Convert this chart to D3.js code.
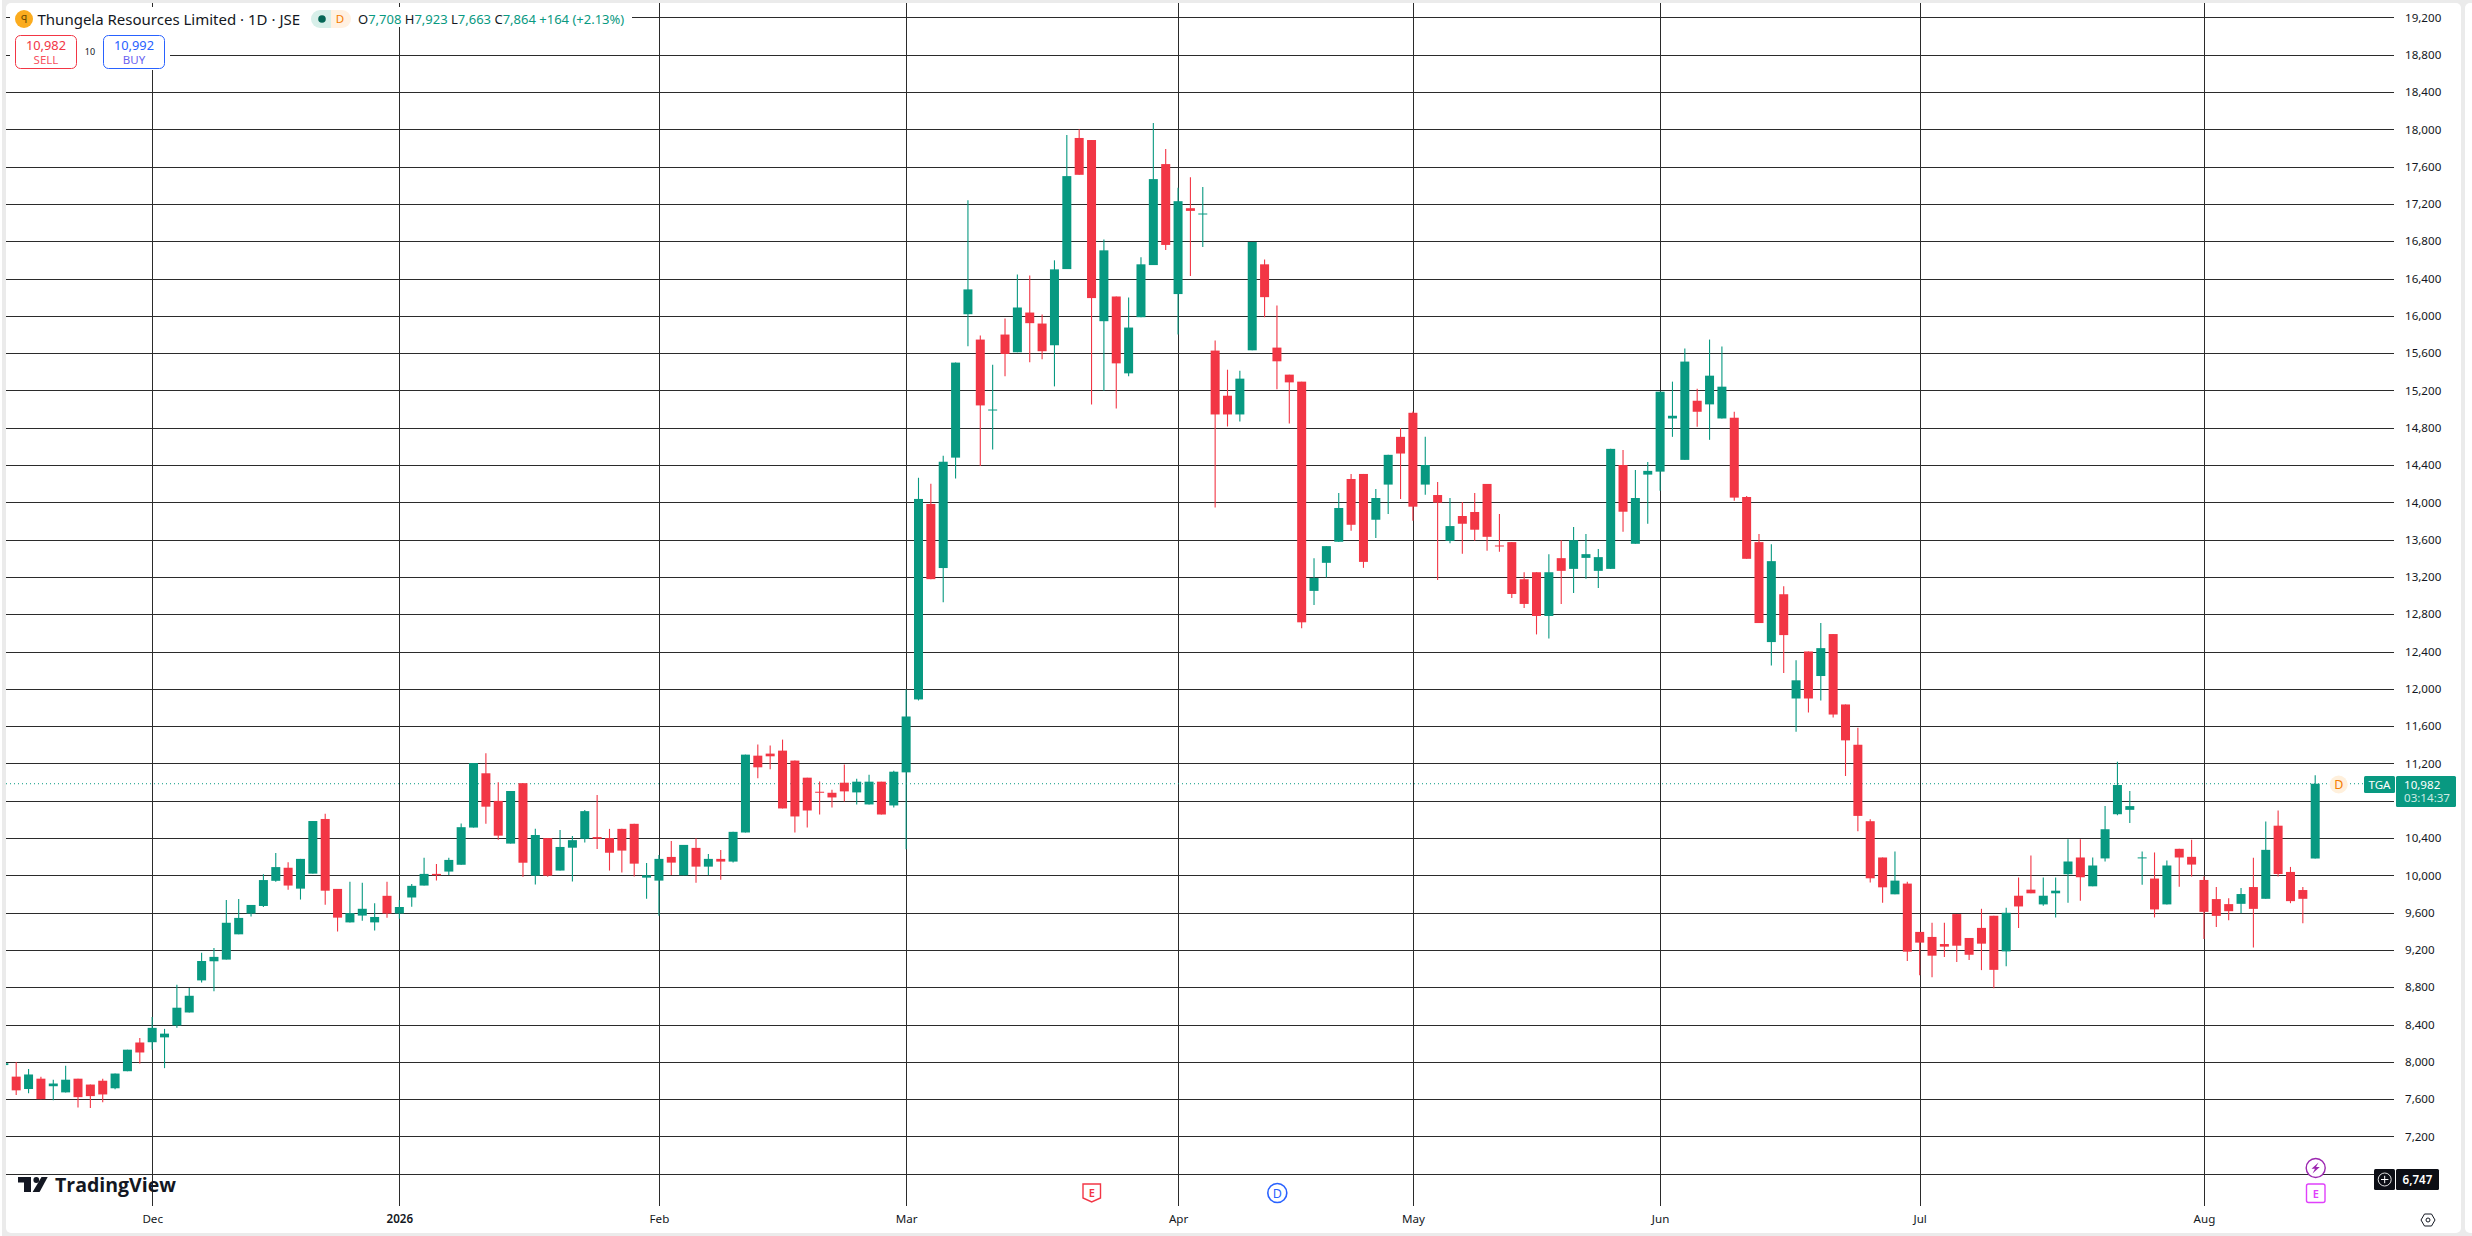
<!DOCTYPE html>
<html>
<head>
<meta charset="utf-8">
<title>Thungela Resources Limited</title>
<script src="https://cdn.jsdelivr.net/npm/d3@7"></script>
<style>
  html, body { margin: 0; padding: 0; background: #fff; overflow: hidden; }
  svg { display: block; }
  text { font-family: "Noto Sans", sans-serif; }
</style>
</head>
<body>
<script>
// one entry per daily bar, the first one is cut off by the left edge of the pane
const opens = [7965,
  7841,7708,7819,7738,7672,7819,7756,7797,7716,7899,
  8207,8210,8262,8390,8529,8873,9078,9096,9367,9590,
  9671,9941,10081,9857,10018,10604,9854,9495,9568,9495,
  9780,9590,9762,9890,10015,10040,10113,10512,11094,10798,
  10340,10988,9996,10399,10051,10296,10392,10410,10399,10498,
  10552,9975,9943,10197,10000,10294,10093,10176,10147,10459,
  11283,11305,11337,11230,11047,10896,10885,10993,10889,10760,
  11004,10749,11104,11886,13982,13295,14479,16017,15745,14989,
  15799,15609,16035,15917,15684,16501,17907,17885,15942,16207,
  15383,15985,16544,17627,16233,17154,17090,15627,15143,14942,
  15630,16552,15659,15369,15294,13050,13351,13577,14250,14304,
  13813,14190,14702,14960,14190,14078,13587,13853,13896,14197,
  13537,13573,13175,13250,12781,13401,13286,13404,13265,13286,
  14400,13555,14297,14329,14899,14455,15089,15050,14899,14907,
  14057,13573,12501,13014,11896,12400,12137,12587,11832,11400,
  10580,10191,9796,9911,9393,9339,9263,9584,9328,9436,
  9566,9184,9781,9846,9688,9807,10012,10191,9882,10181,
  10655,10702,10185,9965,9688,10284,10198,9950,9745,9691,
  9694,9874,9748,10532,10036,9842,10180];
const highs = [7985,
  7998,7923,7841,7808,7958,7819,7756,7819,7874,8130,
  8254,8481,8353,8825,8792,9169,9220,9736,9747,9682,
  10011,10238,10139,10176,10582,10659,9854,9930,9919,9700,
  9930,9736,9908,10187,10121,10187,10556,11204,11310,10999,
  10904,10988,10498,10399,10487,10421,10699,10860,10498,10498,
  10552,10133,10219,10369,10326,10398,10229,10272,10466,11294,
  11402,11391,11455,11230,11047,11007,10918,11187,11036,11079,
  11004,11122,11993,14263,14198,14500,15498,17240,15788,15476,
  15971,16444,16433,16014,16595,17939,18000,17885,16817,16207,
  16197,16627,18068,17788,17373,17487,17380,15734,15422,15412,
  16792,16605,16111,15369,15294,13401,13530,14100,14304,14304,
  14143,14509,14795,14975,14702,14218,14046,14003,14100,14197,
  13874,13573,13250,13250,13444,13594,13734,13659,13498,14573,
  14562,14347,14433,15186,15294,15649,15218,15745,15670,14971,
  14068,13659,13551,13100,12306,12400,12706,12587,11832,11583,
  10601,10191,10256,9932,9393,9490,9490,9584,9328,9641,
  9566,9652,9976,10213,9976,9976,10386,10386,10191,10742,
  11217,10904,10256,10245,10159,10284,10381,9986,9874,9755,
  9863,10187,10576,10694,10090,9874,11072];
const lows = [7965,
  7643,7663,7599,7588,7672,7511,7504,7566,7705,7899,
  7983,8133,7932,8364,8529,8851,8756,9096,9367,9557,
  9660,9930,9846,9740,10018,9685,9396,9495,9513,9407,
  9546,9535,9663,9890,9945,10004,10113,10512,10553,10381,
  10340,9985,9901,9985,10051,9934,10351,10282,10051,10029,
  9986,9749,9566,10004,10000,9921,10000,9953,10136,10459,
  11040,11136,10717,10459,10513,10652,10728,10792,10760,10760,
  10652,10728,10280,11875,13176,12928,14254,15673,14390,14566,
  15351,15609,15501,15534,15243,16501,17512,15050,15197,15007,
  15351,15985,16544,16706,15799,16426,16738,13943,14813,14867,
  15630,15985,15211,14845,12648,12899,13193,13577,13695,13297,
  13616,13874,14035,13802,14082,13168,13562,13447,13587,13480,
  13469,12974,12867,12583,12540,12910,13028,13179,13082,13286,
  13684,13555,13770,14125,14702,14455,14810,14670,14899,14017,
  13394,12705,12250,12170,11540,11745,11875,11691,11065,10472,
  9922,9706,9796,9080,8929,8907,9123,9069,9091,8983,
  8789,9026,9436,9807,9673,9548,9706,9727,9882,10148,
  10644,10562,9900,9548,9688,9878,9986,9317,9446,9518,
  9594,9227,9748,9986,9701,9486,10180];
const closes = [7985,
  7694,7864,7599,7767,7808,7621,7632,7650,7874,8130,
  8100,8364,8302,8580,8708,9081,9125,9491,9543,9682,
  9949,10088,9890,10176,10582,9835,9546,9594,9641,9553,
  9590,9660,9887,10015,10000,10165,10516,11204,10736,10425,
  10904,10135,10432,9996,10304,10377,10688,10392,10242,10265,
  10125,10000,10176,10136,10326,10093,10176,10147,10466,11294,
  11158,11276,10717,10631,10695,10889,10835,10900,11004,11004,
  10652,11111,11703,14036,13176,14435,15498,16283,15039,14995,
  15591,16089,15921,15620,16498,17498,17512,16190,16702,15490,
  15874,16552,17466,16760,17229,17125,17097,14942,14942,15326,
  16792,16200,15512,15286,12713,13189,13530,13939,13759,13361,
  14046,14509,14523,13953,14400,13996,13745,13770,13706,13630,
  13530,13017,12910,12781,13250,13265,13594,13444,13412,14573,
  13899,14046,14337,15186,14928,15509,14971,15358,15240,14050,
  13394,12705,13369,12576,12091,11896,12436,11724,11447,10637,
  9968,9871,9943,9181,9278,9138,9235,9245,9148,9267,
  8986,9598,9666,9807,9781,9835,10148,9979,10105,10494,
  10968,10742,10192,9634,10105,10191,10115,9608,9565,9615,
  9799,9640,10273,10014,9723,9748,10982];

const monthLabels = ["Dec", "2026", "Feb", "Mar", "Apr", "May", "Jun", "Jul", "Aug"];
const monthBars = [12, 32, 53, 73, 95, 114, 134, 155, 178];
const priceTicks = d3.range(6800, 19201, 400);
const hiddenPriceLabels = [6800, 10800]; // sit behind the price badges
const lastPrice = 10982;

const w = 2472, h = 1236;
const green = "#089981", red = "#f23645", gridColor = "#2b2b2b";
const paneRight = 2394, paneBottom = 1206;

const xScale = d3.scaleLinear().domain([0, opens.length - 1]).range([3.84, 2315.2]);
const yScale = d3.scaleLinear().domain([6800, 19200]).range([1173.7, 17.4]);

const svg = d3.select("body").append("svg").attr("width", w).attr("height", h);

// page frame
svg.append("rect").attr("width", w).attr("height", h).attr("fill", "#ffffff");
svg.append("rect").attr("x", 2).attr("y", 0).attr("width", w - 2).attr("height", 1236).attr("fill", "#ebebeb");
svg.append("rect").attr("x", 6).attr("y", 3).attr("width", 2455).attr("height", 1230).attr("rx", 5).attr("fill", "#ffffff");
svg.append("rect").attr("x", 2465).attr("y", 3).attr("width", 12).attr("height", 1230).attr("rx", 5).attr("fill", "#ffffff");

svg.append("clipPath").attr("id", "pane")
  .append("rect").attr("x", 6).attr("y", 3).attr("width", paneRight - 6).attr("height", paneBottom - 3);

// price axis and horizontal grid
const yAxis = d3.axisRight(yScale)
  .tickValues(priceTicks)
  .tickFormat(d => hiddenPriceLabels.includes(d) ? "" : d3.format(",")(d))
  .tickSize(-(paneRight - 6))
  .tickPadding(11);
const yG = svg.append("g").attr("transform", "translate(" + paneRight + ",0)").call(yAxis);
yG.select(".domain").remove();
yG.selectAll("line").attr("stroke", gridColor).attr("shape-rendering", "crispEdges");
yG.selectAll("text").attr("fill", "#131722").style("font-size", "11.6px").attr("font-family", null);

// time axis and vertical grid
const xAxis = d3.axisBottom(xScale)
  .tickValues(monthBars)
  .tickFormat((d, i) => monthLabels[i])
  .tickSize(-(paneBottom - 3))
  .tickPadding(9);
const xG = svg.append("g").attr("transform", "translate(0," + paneBottom + ")").call(xAxis);
xG.select(".domain").remove();
xG.selectAll("line").attr("stroke", gridColor).attr("shape-rendering", "crispEdges");
xG.selectAll("text").attr("fill", "#131722").style("font-size", "11.6px").attr("font-family", null)
  .style("font-weight", (d, i) => monthLabels[i] === "2026" ? 600 : 400);

// masks behind the legend
svg.append("rect").attr("x", 10).attr("y", 7).attr("width", 622).attr("height", 20).attr("fill", "#fff");
svg.append("rect").attr("x", 10).attr("y", 27).attr("width", 160).attr("height", 43).attr("fill", "#fff");

// last price line
svg.append("line")
  .attr("x1", 6).attr("x2", 2364)
  .attr("y1", yScale(lastPrice)).attr("y2", yScale(lastPrice))
  .attr("stroke", green).attr("stroke-width", 1).attr("stroke-dasharray", "1,3");

// candles
const bars = opens.map((o, i) => ({ i: i, o: o, h: highs[i], l: lows[i], c: closes[i] }));
const candles = svg.append("g").attr("clip-path", "url(#pane)")
  .selectAll("g").data(bars).enter().append("g")
  .attr("fill", d => d.c >= d.o ? green : red)
  .attr("stroke", d => d.c >= d.o ? green : red);
candles.append("line")
  .attr("x1", d => xScale(d.i)).attr("x2", d => xScale(d.i))
  .attr("y1", d => yScale(d.h)).attr("y2", d => yScale(d.l))
  .attr("stroke-width", 1.1);
candles.append("rect")
  .attr("x", d => xScale(d.i) - 4.5)
  .attr("y", d => yScale(Math.max(d.o, d.c)))
  .attr("width", 9)
  .attr("height", d => Math.max(yScale(Math.min(d.o, d.c)) - yScale(Math.max(d.o, d.c)), 1))
  .attr("stroke", "none");

// legend line
svg.append("circle").attr("cx", 24).attr("cy", 19).attr("r", 9).attr("fill", "#fbac1f");
svg.append("text").attr("x", 24).attr("y", 23).attr("text-anchor", "middle").attr("fill", "#6b4a00")
  .style("font-size", "11px").text("ꟼ");
svg.append("text").attr("x", 37.5).attr("y", 24.5).attr("fill", "#131722")
  .style("font-size", "15px").text("Thungela Resources Limited · 1D · JSE");

svg.append("path").attr("d", "M320,10 H331 V28 H320 A9,9 0 0 1 320,10 Z").attr("fill", "#d7efe9");
svg.append("path").attr("d", "M331,10 H342 A9,9 0 0 1 342,28 H331 Z").attr("fill", "#fff1e2");
svg.append("circle").attr("cx", 322).attr("cy", 19).attr("r", 3.8).attr("fill", "#056656");
svg.append("text").attr("x", 340).attr("y", 23).attr("text-anchor", "middle").attr("fill", "#f57c00")
  .style("font-size", "11.5px").text("D");

const ohlcText = svg.append("text").attr("x", 358).attr("y", 24).style("font-size", "13px").attr("fill", green);
[["O", "7,708 "], ["H", "7,923 "], ["L", "7,663 "], ["C", "7,864 "]].forEach(p => {
  ohlcText.append("tspan").attr("fill", "#131722").text(p[0]);
  ohlcText.append("tspan").text(p[1]);
});
ohlcText.append("tspan").text("+164 (+2.13%)");

// sell / buy buttons
[[15.5, "10,982", "SELL", red, "#f7525f"], [103.5, "10,992", "BUY", "#2962ff", "#6a62f0"]].forEach(b => {
  svg.append("rect").attr("x", b[0]).attr("y", 35.5).attr("width", 61).attr("height", 33).attr("rx", 5)
    .attr("fill", "#fff").attr("stroke", b[3]);
  svg.append("text").attr("x", b[0] + 30.5).attr("y", 49.5).attr("text-anchor", "middle").attr("fill", b[3])
    .style("font-size", "12.8px").text(b[1]);
  svg.append("text").attr("x", b[0] + 30.5).attr("y", 63.5).attr("text-anchor", "middle").attr("fill", b[4])
    .style("font-size", "11.5px").text(b[2]);
});
svg.append("text").attr("x", 90).attr("y", 55).attr("text-anchor", "middle").attr("fill", "#131722")
  .style("font-size", "9px").text("10");

// TradingView mark
svg.append("path").attr("d", "M18,1177 H31 V1192 H24 V1182.5 H18 Z").attr("fill", "#131722");
svg.append("circle").attr("cx", 36.3).attr("cy", 1180).attr("r", 2.9).attr("fill", "#131722");
svg.append("path").attr("d", "M41.5,1177 H47.7 L39.6,1192 H32.6 Z").attr("fill", "#131722");
svg.append("text").attr("x", 55).attr("y", 1192).attr("fill", "#131722")
  .style("font-family", "'Open Sans', sans-serif").style("font-weight", 700)
  .style("font-size", "20px").attr("textLength", 121).attr("lengthAdjust", "spacingAndGlyphs").text("TradingView");

// price badges
svg.append("rect").attr("x", 2364).attr("y", 776).attr("width", 31).attr("height", 17).attr("rx", 1.5).attr("fill", green);
svg.append("text").attr("x", 2379.5).attr("y", 788.5).attr("text-anchor", "middle").attr("fill", "#fff")
  .style("font-size", "11.6px").text("TGA");
svg.append("rect").attr("x", 2396).attr("y", 776).attr("width", 60).attr("height", 31).attr("rx", 1.5).attr("fill", green);
svg.append("text").attr("x", 2404).attr("y", 788.5).attr("fill", "#fff").style("font-size", "11.6px").text("10,982");
svg.append("text").attr("x", 2404).attr("y", 802).attr("fill", "#cdebe4").style("font-size", "11.6px").text("03:14:37");

svg.append("circle").attr("cx", 2338.7).attr("cy", 784.5).attr("r", 9).attr("fill", "#fff0dc");
svg.append("text").attr("x", 2338.7).attr("y", 789).attr("text-anchor", "middle").attr("fill", "#f57c00")
  .style("font-size", "12.5px").text("D");

// crosshair price badge and settings
svg.append("rect").attr("x", 2374).attr("y", 1169).attr("width", 21).attr("height", 21).attr("rx", 1.5).attr("fill", "#0c0e15");
svg.append("rect").attr("x", 2396).attr("y", 1169).attr("width", 43).attr("height", 21).attr("rx", 1.5).attr("fill", "#0c0e15");
svg.append("circle").attr("cx", 2384.7).attr("cy", 1179.5).attr("r", 6.5).attr("fill", "none").attr("stroke", "#e0e0e0");
svg.append("path").attr("d", "M2381,1179.5 H2388.4 M2384.7,1175.8 V1183.2").attr("stroke", "#fff").attr("fill", "none");
svg.append("text").attr("x", 2417.5).attr("y", 1184).attr("text-anchor", "middle").attr("fill", "#fff")
  .style("font-size", "11.6px").style("font-weight", 600).text("6,747");
svg.append("path").attr("d", "M2421,1220 L2424.5,1214 H2431.5 L2435,1220 L2431.5,1226 H2424.5 Z").attr("fill", "none").attr("stroke", "#131722");
svg.append("circle").attr("cx", 2428).attr("cy", 1220).attr("r", 2).attr("fill", "none").attr("stroke", "#131722");

// event markers on the time axis
svg.append("path").attr("d", "M1083,1184 H1100.5 V1198 L1091.7,1202 L1083,1198 Z")
  .attr("fill", "#fff").attr("stroke", red).attr("stroke-width", 1.4);
svg.append("text").attr("x", 1091.7).attr("y", 1197).attr("text-anchor", "middle").attr("fill", red)
  .style("font-size", "11px").style("font-weight", 600).text("E");
svg.append("circle").attr("cx", 1277.3).attr("cy", 1193).attr("r", 9.5).attr("fill", "#fff").attr("stroke", "#2962ff").attr("stroke-width", 1.6);
svg.append("text").attr("x", 1277.3).attr("y", 1197.5).attr("text-anchor", "middle").attr("fill", "#2962ff")
  .style("font-size", "12.5px").text("D");
svg.append("circle").attr("cx", 2315.7).attr("cy", 1168).attr("r", 9.5).attr("fill", "#fff").attr("stroke", "#9c27b0").attr("stroke-width", 1.4);
svg.append("path").attr("d", "M2318.5,1162.5 L2311.5,1168.8 H2315 L2312.5,1173.5 L2319.8,1167 H2316 Z").attr("fill", "#9c27b0");
svg.append("rect").attr("x", 2306.5).attr("y", 1184).attr("width", 18.5).attr("height", 18.5).attr("rx", 2)
  .attr("fill", "#fff").attr("stroke", "#e040fb").attr("stroke-width", 1.4);
svg.append("text").attr("x", 2315.8).attr("y", 1197.5).attr("text-anchor", "middle").attr("fill", "#e040fb")
  .style("font-size", "11px").style("font-weight", 600).text("E");
</script>
</body>
</html>
